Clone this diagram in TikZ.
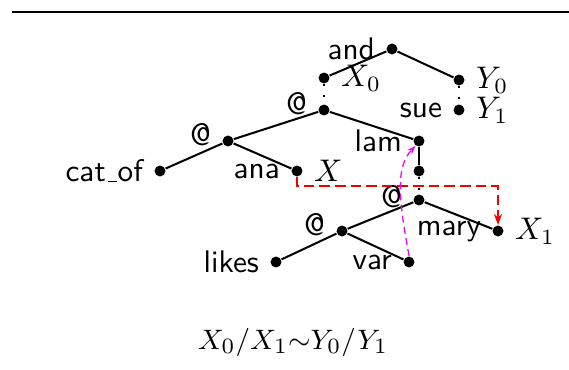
\documentclass[tikz,border=0pt]{standalone}
\usepackage{amsmath,amssymb}
\usepackage{tikz}
\usepackage{xcolor}
\usetikzlibrary{arrows.meta, positioning, calc}
\definecolor{TreeRed}{RGB}{240,0,0}
\definecolor{TreeMagenta}{RGB}{240,0,240}
\newcommand{\lowbar}{\leavevmode\kern.06em\vbox{\hrule width.3em}\kern.02em}

\begin{document}
\begin{tikzpicture}[
        x=0.32pt, y=-0.32pt,
        dot/.style={circle,fill=black,inner sep=0pt,minimum size=3.5pt,
                    label distance=0.8pt},
        lbl/.style={font=\sffamily},
        applbl/.style={font=\sffamily,yshift=2pt,label distance=0pt},
        edge/.style={line width=0.65pt},
        link/.style={line width=0.7pt,dash pattern=on 0.7pt off 2.8pt},
        movepath/.style={TreeRed,line width=0.75pt,dash pattern=on 3.4pt off 1.6pt,
                         -{Stealth[length=3.5pt,width=2.6pt]}},
        varpath/.style={TreeMagenta,line width=0.4pt,dash pattern=on 2.2pt off 1.4pt,
                        -{Stealth[length=2.8pt,width=2pt]}}
      ]
        \useasboundingbox (0,0) rectangle (569,369);
        \draw[line width=0.65pt] (12,12) -- (569,12);
        % upper part
        \node[dot,label={[lbl]left:and}] (and) at (392,49) {};
        \node[dot,label={right:$X_0$}] (x0) at (324,78) {};
        \node[dot,label={right:$Y_0$}] (y0) at (459,80) {};
        \node[dot,label={[lbl]left:sue},label={right:$Y_1$}] (y1) at (459,110) {};
        \node[dot,label={[applbl]left:@}] (app) at (324,110) {};
        \node[dot,label={[applbl]left:@}] (appl) at (228,141) {};
        \node[dot,label={[lbl]left:lam}] (lam) at (419,141) {};
        \node[dot,label={[lbl]left:cat\lowbar of}] (catof) at (160,171) {};
        \node[dot,label={[lbl]left:ana},label={right:$X$}] (ana) at (297,171) {};
        % lower part
        \node[dot] (body) at (419,171) {};
        \node[dot,label={[applbl,yshift=-1pt]left:@}] (appb) at (419,200) {};
        \node[dot,label={[lbl]left:mary},label={right:$X_1$}] (mary) at (498,231) {};
        \node[dot,label={[applbl]left:@}] (appc) at (342,231) {};
        \node[dot,label={[lbl]left:likes}] (likes) at (276,262) {};
        \node[dot,label={[lbl]left:var}] (var) at (409,262) {};
        \draw[edge] (x0) -- (and) -- (y0);
        \draw[link] (x0) -- (app);
        \draw[link] (y0) -- (y1);
        \draw[edge] (appl) -- (app) -- (lam);
        \draw[edge] (catof) -- (appl) -- (ana);
        \draw[edge] (lam) -- (body);
        \draw[link] (body) -- (appb);
        \draw[edge] (appc) -- (appb) -- (mary);
        \draw[edge] (likes) -- (appc) -- (var);
        \coordinate (turn) at (498,186);
        \draw[movepath] (ana.south) |- (turn) -- (mary.north);
        \draw[varpath] (var.north) .. controls (400,205) and (394,168) .. (lam.-125);
        \node[font=\fontsize{9.3}{11}\selectfont] (eq) at (293,342) {$X_0/X_1{\sim}Y_0/Y_1$};
      \end{tikzpicture}
\end{document}
